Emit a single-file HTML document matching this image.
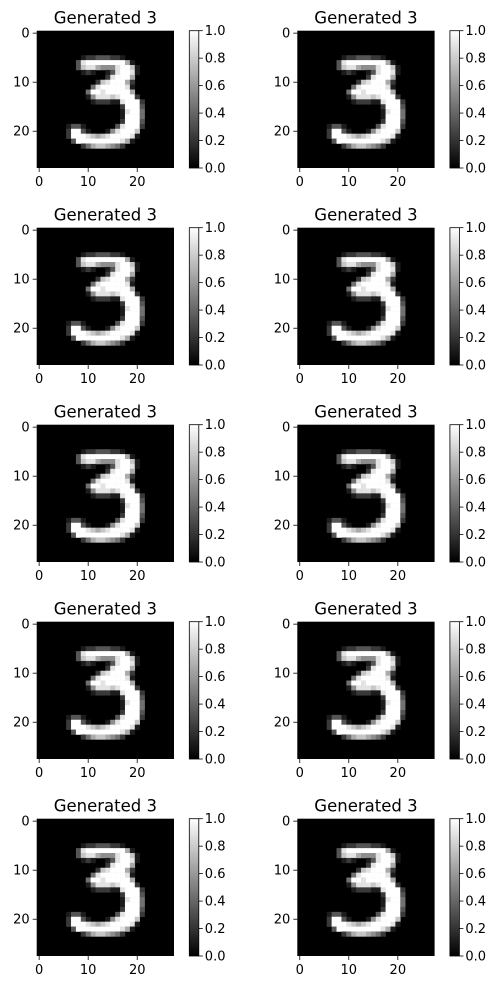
<!DOCTYPE html>
<html><head><meta charset="utf-8">
<style>
html,body{margin:0;padding:0;background:#fff;}
body{width:498px;height:989px;overflow:hidden;font-family:"Liberation Sans","DejaVu Sans",sans-serif;}
svg text{font-family:"DejaVu Sans","Liberation Sans",sans-serif;fill:#000;}
</style></head>
<body>
<svg id="fig" width="498" height="989" viewBox="0 0 498 989" xmlns="http://www.w3.org/2000/svg">
<defs>
<linearGradient id="gray" x1="0" y1="1" x2="0" y2="0">
<stop offset="0" stop-color="#000"/><stop offset="1" stop-color="#fff"/>
</linearGradient>
</defs>
</svg>
<script>
// 28x28 generated digit, intensity 0-9 per pixel
const digitRows = [
"0000000000000000000000000000",
"0000000000000000000000000000",
"0000000000000000000000000000",
"0000000000000000000000000000",
"0000000000000000000000000000",
"0000000001223332210000000000",
"0000000038999999996100000000",
"0000000037886555899710000000",
"0000000001210013899810000000",
"0000000000000028999600000000",
"0000000000002789996200000000",
"0000000000048999998100000000",
"0000000000499899999600000000",
"0000000000158887899920000000",
"0000000000012221189992000000",
"0000000000000000029993000000",
"0000000000000000018994000000",
"0000000000000000019994000000",
"0000000000000000029993000000",
"0000001331000000389992000000",
"0000002993100015899970000000",
"0000002999876789999810000000",
"0000000399999999986100000000",
"0000000002467765420000000000",
"0000000000000000000000000000",
"0000000000000000000000000000",
"0000000000000000000000000000",
"0000000000000000000000000000"
];
const panelTitles = ["Generated 3","Generated 3","Generated 3","Generated 3","Generated 3","Generated 3","Generated 3","Generated 3","Generated 3","Generated 3"];
const axisTicks = [0,10,20];
const cbarTicks = [0.0,0.2,0.4,0.6,0.8,1.0];

const NS="http://www.w3.org/2000/svg";
const svg=document.getElementById('fig');
function mk(tag,attrs,parent){const e=document.createElementNS(NS,tag);for(const k in attrs)e.setAttribute(k,attrs[k]);(parent||svg).appendChild(e);return e;}

const W=137.3, cell=W/28;
panelTitles.forEach((t,i)=>{
  const col=i%2,row=Math.floor(i/2);
  const x0=36.7+col*260.6, y0=30.7+row*197;
  const g=mk('g',{});
  
  
  const bg=mk('rect',{x:x0,y:y0,width:W,height:W,fill:'#000'},g);
  
  
  const sx=c=>x0+(c+0.5)*cell, sy=r=>y0+(r+0.5)*cell;
  digitRows.forEach((rs,r)=>{
    for(let c=0;c<rs.length;c++){
      const v=parseInt(rs[c])/9;
      if(v<=0)continue;
      const g8=Math.round(v*255);
      const px=mk('rect',{x:(sx(c)-cell/2).toFixed(2),y:(sy(r)-cell/2).toFixed(2),width:(cell+0.3).toFixed(2),height:(cell+0.3).toFixed(2),fill:`rgb(${g8},${g8},${g8})`},g);
      
      
    }
  });
  const ttl=mk('text',{x:x0+W/2,y:y0-7,'text-anchor':'middle','font-size':'16.5'},g);
  ttl.textContent=t;
  
  
  axisTicks.forEach(v=>{
    const tx=sx(v), ty=sy(v);
    mk('line',{x1:tx,y1:y0+W,x2:tx,y2:y0+W+4,stroke:'#000','stroke-width':0.8},g);
    const xl=mk('text',{x:tx,y:y0+W+18,'text-anchor':'middle','font-size':'13'},g);
    xl.textContent=v;
    
    
    mk('line',{x1:x0-4,y1:ty,x2:x0,y2:ty,stroke:'#000','stroke-width':0.8},g);
    const yl=mk('text',{x:x0-7,y:ty+4.5,'text-anchor':'end','font-size':'13'},g);
    yl.textContent=v;
    
    
  });
  const cx=x0+152.6, cw=9.5;
  const cb=mk('rect',{x:cx,y:y0,width:cw,height:W,fill:'url(#gray)',stroke:'#000','stroke-width':0.8},g);
  
  
  cbarTicks.forEach(v=>{
    const ty=y0+W-v*W;
    mk('line',{x1:cx+cw,y1:ty,x2:cx+cw+4,y2:ty,stroke:'#000','stroke-width':0.8},g);
    const l=mk('text',{x:cx+cw+6,y:ty+4.5,'font-size':'13'},g);
    l.textContent=v.toFixed(1);
    
    
  });
});
</script>
</body></html>
